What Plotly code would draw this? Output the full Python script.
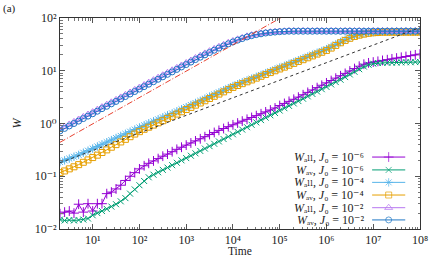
import plotly.graph_objects as go

# ---------------- data ----------------
TIME = [2.0, 2.51, 3.16, 3.98, 5.01, 6.31, 7.94,
        10, 12.6, 15.8, 20.0, 25.1, 31.6, 39.8, 50.1, 63.1, 79.4,
        100, 126, 158, 200, 251, 316, 398, 501, 631, 794,
        1e3, 1.26e3, 1.58e3, 2.0e3, 2.51e3, 3.16e3, 3.98e3, 5.01e3, 6.31e3, 7.94e3,
        1e4, 1.26e4, 1.58e4, 2.0e4, 2.51e4, 3.16e4, 3.98e4, 5.01e4, 6.31e4, 7.94e4,
        1e5, 1.26e5, 1.58e5, 2.0e5, 2.51e5, 3.16e5, 3.98e5, 5.01e5, 6.31e5, 7.94e5,
        1e6, 1.26e6, 1.58e6, 2.0e6, 2.51e6, 3.16e6, 3.98e6, 5.01e6, 6.31e6, 7.94e6,
        1e7, 1.26e7, 1.58e7, 2.0e7, 2.51e7, 3.16e7, 3.98e7, 5.01e7, 6.31e7, 7.94e7,
        1e8]

W_ALL_J6 = [0.0195, 0.0209, 0.0219, 0.0200, 0.0295, 0.0209, 0.0302,
            0.0219, 0.0302, 0.0302, 0.0468, 0.0501, 0.0575, 0.0676, 0.0832, 0.100, 0.117,
            0.138, 0.158, 0.176, 0.195, 0.216, 0.240, 0.263, 0.292, 0.324, 0.355,
            0.389, 0.427, 0.468, 0.513, 0.562, 0.617, 0.676, 0.741, 0.804, 0.871,
            0.944, 1.02, 1.11, 1.20, 1.30, 1.41, 1.53, 1.66, 1.80, 1.97,
            2.19, 2.40, 2.63, 2.88, 3.16, 3.51, 3.89, 4.32, 4.79, 5.31,
            5.89, 6.53, 7.24, 8.04, 8.91, 9.89, 11.0, 12.2, 13.3, 14.1,
            14.6, 15.1, 15.7, 16.2, 16.8, 17.4, 18.0, 18.6, 19.3, 20.0,
            20.7]

W_AV_J6 = [0.0151, 0.0145, 0.0148, 0.0145, 0.0148, 0.0151, 0.0158,
           0.0182, 0.0200, 0.0219, 0.0240, 0.0266, 0.0295, 0.0335, 0.0385, 0.0468, 0.0562,
           0.0676, 0.0813, 0.0955, 0.107, 0.119, 0.132, 0.146, 0.162, 0.180, 0.200,
           0.221, 0.245, 0.272, 0.302, 0.335, 0.372, 0.412, 0.457, 0.507, 0.562,
           0.624, 0.692, 0.767, 0.851, 0.944, 1.05, 1.16, 1.29, 1.43, 1.58,
           1.76, 1.95, 2.16, 2.40, 2.66, 2.95, 3.27, 3.63, 4.03, 4.47,
           4.95, 5.50, 6.10, 6.76, 7.59, 8.51, 9.55, 10.7, 12.0, 13.0,
           13.6, 14.0, 14.1, 14.2, 14.2, 14.3, 14.4, 14.5, 14.5, 14.6,
           14.7]

W_ALL_J4 = [0.186, 0.200, 0.216, 0.234, 0.254, 0.279, 0.305,
            0.335, 0.367, 0.403, 0.442, 0.484, 0.531, 0.582, 0.638, 0.700, 0.767,
            0.841, 0.923, 1.01, 1.10, 1.20, 1.31, 1.43, 1.55, 1.70, 1.86,
            2.04, 2.24, 2.45, 2.69, 2.95, 3.24, 3.55, 3.89, 4.27, 4.68,
            5.13, 5.56, 6.03, 6.53, 7.08, 7.67, 8.32, 9.02, 9.77, 10.6,
            11.5, 12.4, 13.5, 14.6, 15.8, 17.2, 18.6, 20.2, 21.9, 23.7,
            25.7, 28.5, 31.6, 35.1, 38.9, 42.7, 46.2, 49.0, 51.3, 52.5,
            53.7, 54.3, 55.0, 55.0, 55.1, 55.0, 55.2, 55.1, 55.0, 55.1,
            55.2]

W_AV_J4 = [0.117, 0.126, 0.138, 0.151, 0.166, 0.184, 0.204,
           0.226, 0.251, 0.282, 0.316, 0.355, 0.398, 0.447, 0.501, 0.562, 0.631,
           0.700, 0.776, 0.851, 0.933, 1.03, 1.13, 1.25, 1.37, 1.51, 1.67,
           1.84, 2.02, 2.23, 2.45, 2.70, 2.98, 3.28, 3.61, 3.98, 4.39,
           4.83, 5.25, 5.69, 6.17, 6.68, 7.24, 7.85, 8.51, 9.23, 10.0,
           10.8, 11.7, 12.7, 13.8, 15.0, 16.2, 17.6, 19.1, 20.7, 22.4,
           24.3, 26.9, 30.2, 33.9, 37.6, 41.2, 44.7, 47.3, 49.5, 51.3,
           52.5, 53.1, 53.7, 53.7, 53.8, 53.7, 53.8, 53.9, 53.8, 53.9,
           54.0]

W_ALL_J2 = [0.83, 0.87, 0.96, 1.07, 1.19, 1.33, 1.48,
            1.64, 1.83, 2.04, 2.27, 2.52, 2.80, 3.12, 3.48, 3.87, 4.32,
            4.80, 5.35, 5.95, 6.62, 7.38, 8.21, 9.15, 10.2, 11.3, 12.6,
            14.0, 15.6, 17.4, 19.3, 21.3, 23.5, 25.9, 28.4, 31.0, 33.9,
            36.6, 39.4, 42.0, 44.9, 47.3, 49.4, 51.0, 52.7, 53.8, 54.7,
            55.5, 56.0, 56.6, 56.8, 56.5, 56.9, 56.6, 56.7, 56.5, 56.8,
            56.7, 56.6, 56.8, 56.5, 56.7, 56.9, 56.6, 56.7, 56.5, 56.8,
            56.7, 56.6, 56.8, 56.7, 56.5, 56.8, 56.6, 56.7, 56.7, 56.6,
            56.7]

W_AV_J2 = [0.724, 0.807, 0.898, 1.00, 1.11, 1.24, 1.38,
           1.53, 1.71, 1.91, 2.12, 2.36, 2.62, 2.92, 3.25, 3.62, 4.04,
           4.49, 5.00, 5.56, 6.19, 6.90, 7.67, 8.55, 9.51, 10.6, 11.8,
           13.1, 14.6, 16.3, 18.1, 20.0, 22.1, 24.5, 26.9, 29.5, 32.4,
           35.1, 38.0, 40.7, 43.7, 46.2, 48.4, 50.1, 51.9, 53.1, 54.1,
           55.0, 55.6, 56.2, 56.0, 56.3, 56.1, 56.2, 56.0, 56.3, 56.2,
           56.1, 56.3, 56.2, 56.0, 56.2, 56.3, 56.1, 56.2, 56.0, 56.2,
           56.3, 56.1, 56.2, 56.2, 56.0, 56.3, 56.1, 56.2, 56.2, 56.1,
           56.2]

# guide lines (end points)
GUIDE_T = [2.0, 1e8]
GUIDE_HALF_W = [0.44, 3100.0]     # ~ t^(1/2), red dash-dot
GUIDE_THIRD_W = [0.18, 66.0]      # ~ t^(1/3), black dashed

X_TICKS = [1e1, 1e2, 1e3, 1e4, 1e5, 1e6, 1e7, 1e8]
X_TICK_TEXT = ["10¹", "10²", "10³", "10⁴", "10⁵", "10⁶", "10⁷", "10⁸"]
Y_TICKS = [1e-2, 1e-1, 1e0, 1e1, 1e2]
Y_TICK_TEXT = ["10⁻²", "10⁻¹", "10⁰", "10¹", "10²"]

LABELS = [
    "<i>W</i>ₐₗₗ, <i>J</i>₀ = 10⁻⁶",
    "<i>W</i>ₐᵥ, <i>J</i>₀ = 10⁻⁶",
    "<i>W</i>ₐₗₗ, <i>J</i>₀ = 10⁻⁴",
    "<i>W</i>ₐᵥ, <i>J</i>₀ = 10⁻⁴",
    "<i>W</i>ₐₗₗ, <i>J</i>₀ = 10⁻²",
    "<i>W</i>ₐᵥ, <i>J</i>₀ = 10⁻²",
]
SERIES = [W_ALL_J6, W_AV_J6, W_ALL_J4, W_AV_J4, W_ALL_J2, W_AV_J2]
COLORS = ["#9400D3", "#009E73", "#56B4E9", "#E69F00", "#B777F0", "#1F77C4"]
SYMBOLS = ["cross-thin-open", "x-thin-open", "asterisk-open", "square-open",
           "triangle-up-open", "circle-open"]
SIZES = [7, 6, 7, 6, 7, 6]

FONT = "Liberation Serif, DejaVu Serif, serif"
TXT = "#222222"

fig = go.Figure()

for ys, c, s, sz in zip(SERIES, COLORS, SYMBOLS, SIZES):
    fig.add_trace(go.Scatter(
        x=TIME, y=ys, mode="lines+markers", showlegend=False,
        line=dict(color=c, width=1),
        marker=dict(symbol=s, size=sz, color=c, line=dict(color=c, width=1)),
    ))

fig.add_trace(go.Scatter(x=GUIDE_T, y=GUIDE_HALF_W, mode="lines", showlegend=False,
                         line=dict(color="#E8412F", width=1, dash="6px,2px,1px,2px")))
fig.add_trace(go.Scatter(x=GUIDE_T, y=GUIDE_THIRD_W, mode="lines", showlegend=False,
                         line=dict(color="#333333", width=1, dash="3px,3px")))

# custom legend (text on the left, sample on the right as in gnuplot)
row_y = [0.341, 0.280, 0.221, 0.161, 0.101, 0.043]
x_l, x_m, x_r, x_txt = 0.867, 0.913, 0.959, 0.849
for lab, c, s, sz, yy in zip(LABELS, COLORS, SYMBOLS, SIZES, row_y):
    fig.add_trace(go.Scatter(
        x=[x_l, x_m, x_r], y=[yy, yy, yy], xaxis="x2", yaxis="y2",
        mode="lines+markers", showlegend=False, hoverinfo="skip",
        line=dict(color=c, width=1),
        marker=dict(symbol=s, size=[0, sz, 0], color=c, line=dict(color=c, width=1)),
    ))
    fig.add_annotation(xref="paper", yref="paper", x=x_txt, y=yy, text=lab,
                       showarrow=False, xanchor="right", yanchor="middle",
                       font=dict(family=FONT, size=12, color=TXT))

fig.add_annotation(xref="paper", yref="paper", x=-0.163, y=1.047, text="(a)",
                   showarrow=False, xanchor="left", yanchor="middle",
                   font=dict(family=FONT, size=11, color=TXT))
fig.add_annotation(xref="paper", yref="paper", x=0.5, y=-0.142, text="Time",
                   showarrow=False, xanchor="center", yanchor="bottom",
                   font=dict(family=FONT, size=11.5, color=TXT))
fig.add_annotation(xref="paper", yref="paper", x=-0.122, y=0.5, text="<i>W</i>",
                   showarrow=False, xanchor="center", yanchor="middle", textangle=-90,
                   font=dict(family=FONT, size=12, color=TXT))

axis_common = dict(
    type="log", showline=True, linecolor="#333333", linewidth=1, mirror="ticks",
    ticks="inside", ticklen=5, tickcolor="#555555", showgrid=False, zeroline=False,
    tickmode="array", ticklabeloverflow="allow",
    minor=dict(ticks="inside", ticklen=2.5, tickcolor="#777777", showgrid=False, dtick="D1"),
    tickfont=dict(family=FONT, size=12, color=TXT),
)

fig.update_layout(
    width=436, height=259,
    margin=dict(l=60, r=8, t=18, b=30),
    paper_bgcolor="white", plot_bgcolor="white",
    font=dict(family=FONT, color=TXT),
    xaxis=dict(axis_common, range=[0.30103, 8.0005], tickvals=X_TICKS, ticktext=X_TICK_TEXT),
    yaxis=dict(axis_common, range=[-2, 2], tickvals=Y_TICKS, ticktext=Y_TICK_TEXT),
    xaxis2=dict(overlaying="x", range=[0, 1], visible=False, anchor="y2"),
    yaxis2=dict(overlaying="y", range=[0, 1], visible=False, anchor="x2"),
)

fig.write_html("out.html", config={"displayModeBar": False},
               post_script="document.body.style.margin='0';document.body.style.padding='0';")
